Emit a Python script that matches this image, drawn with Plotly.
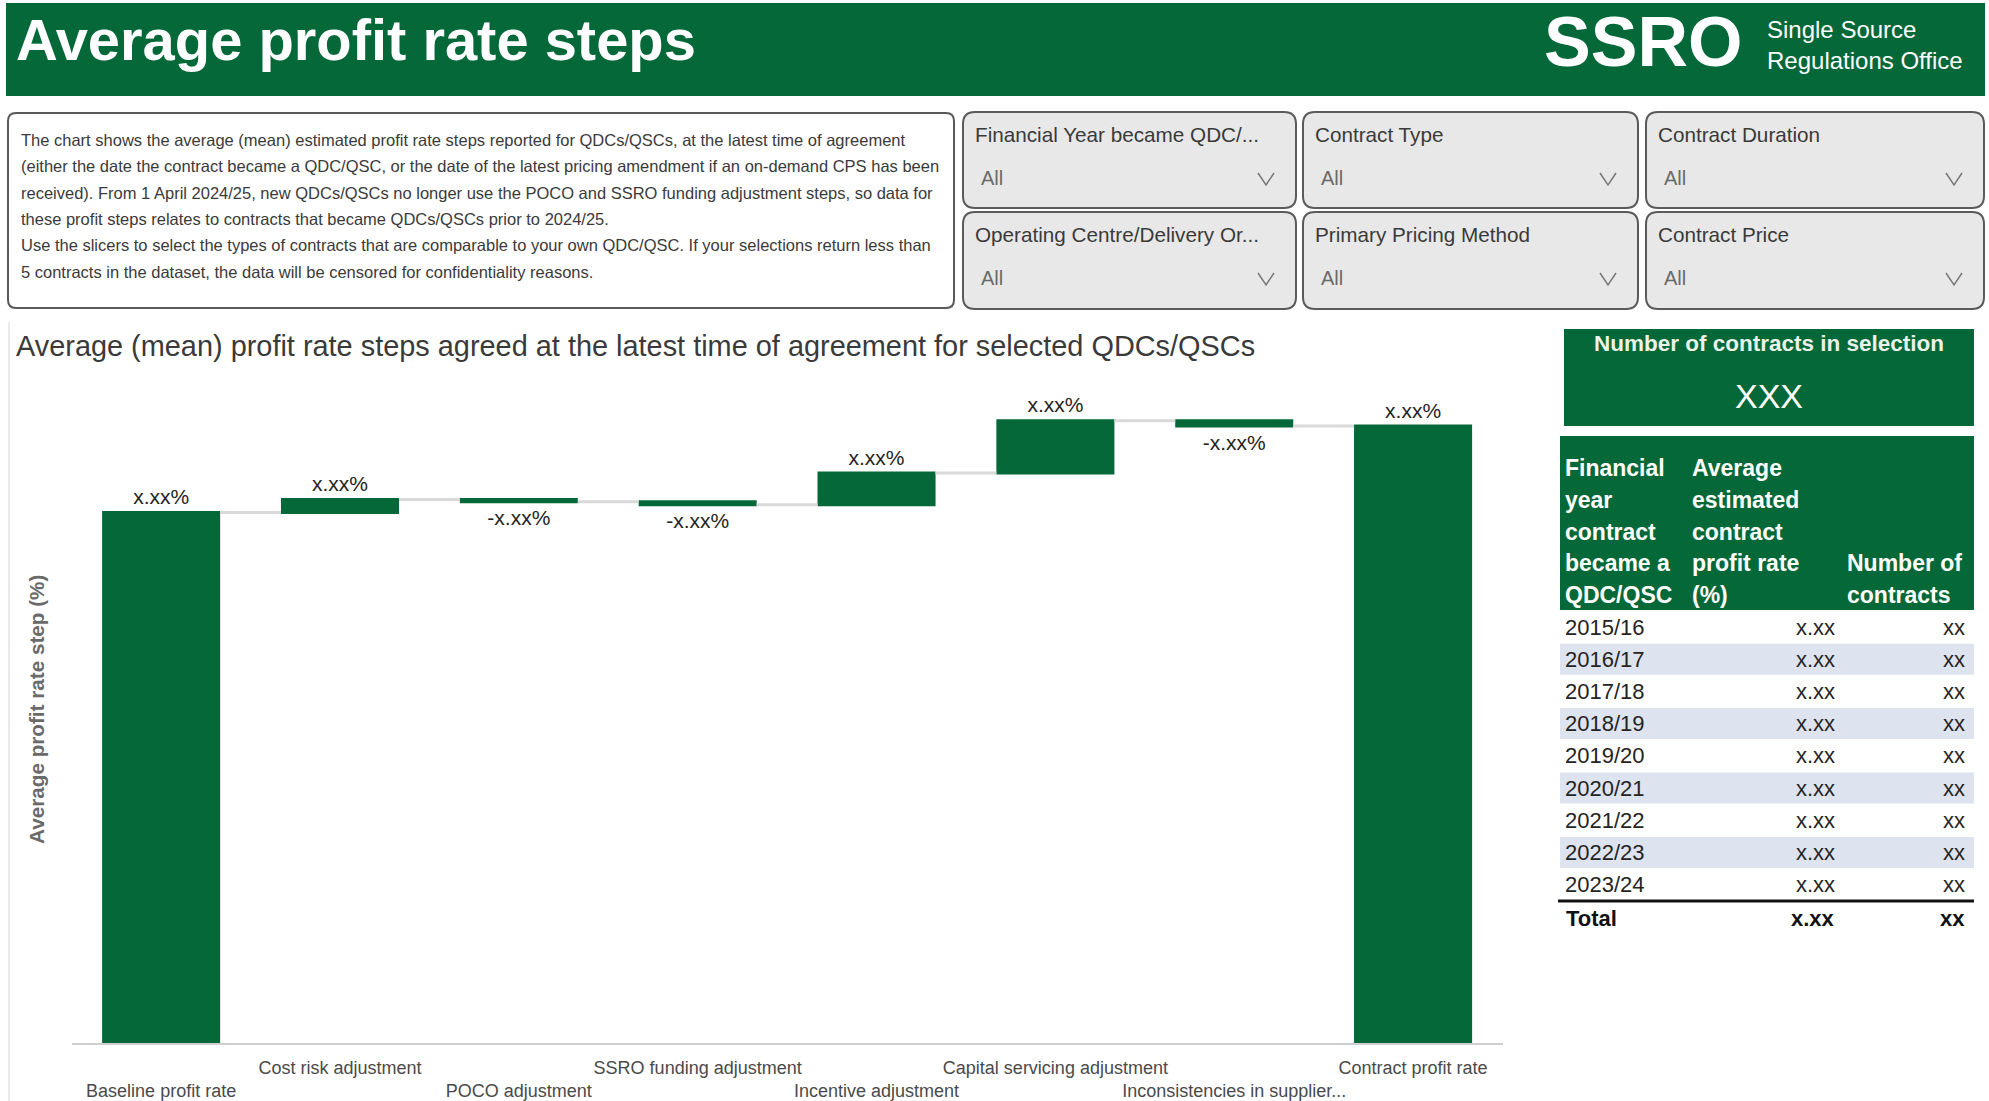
import plotly.graph_objects as go

W, H = 1989, 1101
FONT = "Liberation Sans, Arial, sans-serif"
GREEN = "#056839"

# ---------------- data ----------------
categories = ["Baseline profit rate", "Cost risk adjustment", "POCO adjustment",
              "SSRO funding adjustment", "Incentive adjustment",
              "Capital servicing adjustment", "Inconsistencies in supplier...",
              "Contract profit rate"]
step_values = [7.00, 0.17, -0.03, -0.04, 0.42, 0.69, -0.07, 0]
measures = ["absolute", "relative", "relative", "relative", "relative",
            "relative", "relative", "total"]
step_labels = ["x.xx%", "x.xx%", "-x.xx%", "-x.xx%", "x.xx%", "x.xx%", "-x.xx%", "x.xx%"]

years = ["2015/16", "2016/17", "2017/18", "2018/19", "2019/20",
         "2020/21", "2021/22", "2022/23", "2023/24"]
avg_rates = ["x.xx"] * 9
n_contracts = ["xx"] * 9
total_rate = "x.xx"
total_contracts = "xx"
contracts_in_selection = "XXX"

header_col1 = ["Financial", "year", "contract", "became a", "QDC/QSC"]
header_col2 = ["Average", "estimated", "contract", "profit rate", "(%)"]
header_col3 = ["Number of", "contracts"]

slicer_titles = ["Financial Year became QDC/...", "Contract Type", "Contract Duration",
                 "Operating Centre/Delivery Or...", "Primary Pricing Method", "Contract Price"]
slicer_values = ["All"] * 6

description = [
    "The chart shows the average (mean) estimated profit rate steps reported for QDCs/QSCs, at the latest time of agreement",
    "(either the date the contract became a QDC/QSC, or the date of the latest pricing amendment if an on-demand CPS has been",
    "received). From 1 April 2024/25, new QDCs/QSCs no longer use the POCO and SSRO funding adjustment steps, so data for",
    "these profit steps relates to contracts that became QDCs/QSCs prior to 2024/25.",
    "Use the slicers to select the types of contracts that are comparable to your own QDC/QSC. If your selections return less than",
    "5 contracts in the dataset, the data will be censored for confidentiality reasons.",
]

# ---------------- helpers ----------------
def X(px):
    return px / W

def Y(py):
    return 1 - py / H

shapes = []
annotations = []

def rect(x0, y0, x1, y1, fill, line=None, lw=0, layer="below"):
    shapes.append(dict(type="rect", xref="paper", yref="paper",
                       x0=X(x0), x1=X(x1), y0=Y(y1), y1=Y(y0),
                       fillcolor=fill, line=dict(color=line or fill, width=lw),
                       layer=layer))

def rrect(x0, y0, x1, y1, r, fill, line, lw):
    def p(x, y):
        return f"{X(x):.6f},{Y(y):.6f}"
    path = (f"M {p(x0 + r, y0)} L {p(x1 - r, y0)} Q {p(x1, y0)} {p(x1, y0 + r)} "
            f"L {p(x1, y1 - r)} Q {p(x1, y1)} {p(x1 - r, y1)} "
            f"L {p(x0 + r, y1)} Q {p(x0, y1)} {p(x0, y1 - r)} "
            f"L {p(x0, y0 + r)} Q {p(x0, y0)} {p(x0 + r, y0)} Z")
    shapes.append(dict(type="path", xref="paper", yref="paper", path=path,
                       fillcolor=fill, line=dict(color=line, width=lw), layer="below"))

def line(x0, y0, x1, y1, color, width):
    shapes.append(dict(type="line", xref="paper", yref="paper",
                       x0=X(x0), x1=X(x1), y0=Y(y0), y1=Y(y1),
                       line=dict(color=color, width=width), layer="above"))

def txt(x, y, s, size, color, weight="normal", xanchor="left", yanchor="middle", angle=0, family=FONT):
    annotations.append(dict(x=X(x), y=Y(y), xref="paper", yref="paper", text=s,
                            showarrow=False, xanchor=xanchor, yanchor=yanchor,
                            textangle=angle,
                            font=dict(family=family, size=size, color=color, weight=weight)))

# ---------------- header ----------------
rect(6, 3, 1985, 96, GREEN)
txt(14, 40, "Average profit rate steps", 57.9, "white", weight="bold")
txt(1542, 42, "SSRO", 70, "white", weight="bold")
txt(1765, 30, "Single Source", 24, "white")
txt(1765, 60, "Regulations Office", 24, "white")

# ---------------- description box ----------------
rrect(8, 113, 954, 308, 8, "white", "#5a5a5a", 2)
for i, s in enumerate(description):
    txt(19, 140 + i * 26.3, s, 16.5, "#3a3a3a")

# ---------------- slicers ----------------
col_l = [963, 1303, 1646]
col_r = [1296, 1638, 1984]
row_t = [112, 212]
row_b = [208, 309]
for k, (t, v) in enumerate(zip(slicer_titles, slicer_values)):
    r, c = divmod(k, 3)
    x0, x1, y0, y1 = col_l[c], col_r[c], row_t[r], row_b[r]
    rrect(x0, y0, x1, y1, 12, "#e8e8e8", "#5a5a5a", 2)
    txt(x0 + 10, y0 + 22, t, 20.7, "#3a3a3a")
    txt(x0 + 16, y0 + 66, v, 20, "#6a6a6a")
    cx, cy = x1 - 30, y0 + 67
    shapes.append(dict(type="path", xref="paper", yref="paper",
                       path=f"M {X(cx-8)},{Y(cy-6)} L {X(cx)},{Y(cy+6)} L {X(cx+8)},{Y(cy-6)}",
                       line=dict(color="#777777", width=1.5), layer="above"))

# ---------------- chart frame + titles ----------------
line(9, 322, 9, 1101, "#e3e3e3", 1.5)
txt(14, 346, "Average (mean) profit rate steps agreed at the latest time of agreement for selected QDCs/QSCs",
    28.9, "#3a3a3a")
txt(36, 710, "Average profit rate step (%)", 20.7, "#6a6a6a", weight="bold",
    xanchor="center", yanchor="middle", angle=-90)

# ---------------- right panel ----------------
rect(1564, 329, 1974, 426, GREEN)
txt(1769, 344, "Number of contracts in selection", 22.5, "#eaf3ea", weight="bold", xanchor="center")
txt(1769, 396, contracts_in_selection, 34, "white", xanchor="center")

rect(1560, 436, 1974, 610, GREEN)
hy = [468, 500, 531.5, 563, 595]
for i, s in enumerate(header_col1):
    txt(1563, hy[i], s, 23, "white", weight="bold")
for i, s in enumerate(header_col2):
    txt(1690, hy[i], s, 23, "white", weight="bold")
for i, s in enumerate(header_col3):
    txt(1845, hy[3 + i], s, 23, "white", weight="bold")

row0, rstep = 627, 32.2
for i, (yr, rt, n) in enumerate(zip(years, avg_rates, n_contracts)):
    cy = row0 + i * rstep
    if i % 2 == 1:
        rect(1560, cy - 15.5, 1974, cy + 15.5, "#dde3ef")
    txt(1563, cy, yr, 22, "#252423")
    txt(1837, cy, rt, 22, "#252423", xanchor="right")
    txt(1967, cy, n, 22, "#252423", xanchor="right")
line(1558, 901, 1974, 901, "#111111", 3)
txt(1564, 918, "Total", 22, "#111111", weight="bold")
txt(1837, 918, total_rate, 22, "#111111", weight="bold", xanchor="right")
txt(1967, 918, total_contracts, 22, "#111111", weight="bold", xanchor="right")

# ---------------- waterfall ----------------
tick_text = [("<br>" if i % 2 == 0 else "") + c for i, c in enumerate(categories)]

fig = go.Figure(go.Waterfall(
    x=categories, y=step_values, measure=measures,
    text=step_labels, textposition="outside",
    outsidetextfont=dict(family=FONT, size=21, color="#252423"),
    increasing=dict(marker=dict(color=GREEN)),
    decreasing=dict(marker=dict(color=GREEN)),
    totals=dict(marker=dict(color=GREEN)),
    connector=dict(line=dict(color="#d9d9d9", width=3)),
    cliponaxis=False, hoverinfo="x+y",
))

fig.update_layout(
    width=W, height=H, margin=dict(l=0, r=0, t=0, b=0),
    paper_bgcolor="white", plot_bgcolor="white",
    showlegend=False, waterfallgap=0.34,
    font=dict(family=FONT),
    xaxis=dict(domain=[X(71.7), X(1502.5)], type="category",
               tickmode="array", tickvals=categories, ticktext=tick_text,
               tickangle=0, ticklabelstandoff=7,
               tickfont=dict(family=FONT, size=18, color="#4a4a4a"),
               showline=True, linecolor="#cfcfcf", linewidth=2,
               showgrid=False, zeroline=False, ticks=""),
    yaxis=dict(domain=[Y(1043), Y(387)], range=[0, 8.655],
               showticklabels=False, showgrid=False, zeroline=False,
               showline=False, ticks=""),
    shapes=shapes, annotations=annotations,
)

fig.write_html("out.html", config={"displayModeBar": False},
               post_script="document.body.style.margin='0';")
